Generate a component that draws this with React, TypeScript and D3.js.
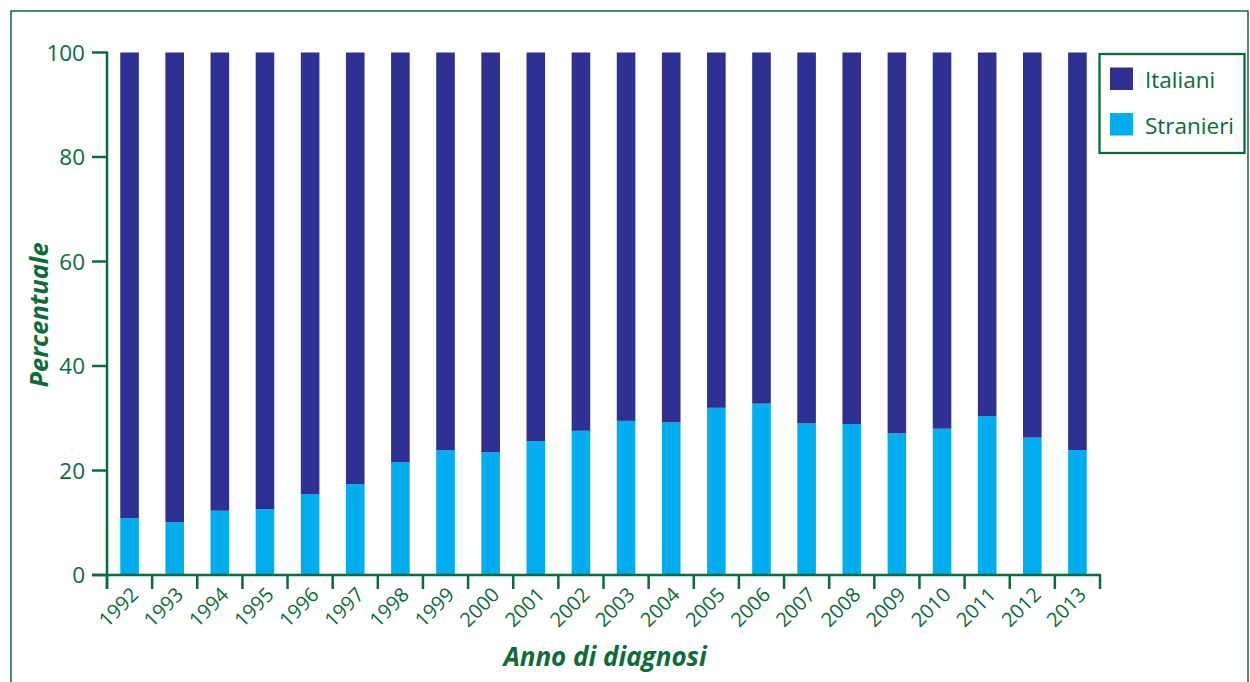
import React from "react";
import * as d3 from "d3";

const years = ["1992","1993","1994","1995","1996","1997","1998","1999","2000","2001","2002","2003","2004","2005","2006","2007","2008","2009","2010","2011","2012","2013"];
const stranieri = [10.9,10.1,12.3,12.6,15.5,17.4,21.6,23.9,23.5,25.6,27.6,29.5,29.2,32.0,32.8,29.0,28.9,27.1,28.0,30.4,26.3,23.9];
const yTicks = [0, 20, 40, 60, 80, 100];
const seriesNames = ["Italiani", "Stranieri"];
const seriesColors = ["#2E3092", "#00AEEF"];

const GREEN = "#0C6B3A";
const FONT = "'Open Sans', sans-serif";

export default function App() {
  const x0 = 107, x1 = 1100, yTop = 52.5, yBot = 575;
  const x = d3.scaleBand<string>().domain(years).range([x0, x1]).paddingInner(0.588).paddingOuter(0.294);
  const y = d3.scaleLinear().domain([0, 100]).range([yBot, yTop]);
  const step = x.step();
  const bw = x.bandwidth();

  return (
    <svg width={1250} height={682} style={{ position: "absolute", left: 0, top: 0, background: "#fff" }}>
      <rect x={11} y={11} width={1237} height={700} fill="none" stroke={GREEN} strokeWidth={1.5} />
      {/* bars */}
      {years.map((yr, i) => (
        <g key={yr}>
          <rect x={x(yr)} y={y(stranieri[i])} width={bw} height={y(0) - y(stranieri[i])} fill={seriesColors[1]} />
          <rect x={x(yr)} y={y(100)} width={bw} height={y(stranieri[i]) - y(100)} fill={seriesColors[0]} />
        </g>
      ))}
      {/* y axis */}
      <line x1={x0} x2={x0} y1={yTop - 1} y2={589} stroke={GREEN} strokeWidth={2.5} />
      {yTicks.map((t) => (
        <g key={t}>
          <line x1={92} x2={x0} y1={y(t)} y2={y(t)} stroke={GREEN} strokeWidth={2.5} />
          <text x={85} y={y(t)} dy="0.36em" textAnchor="end" fontFamily={FONT} fontSize={22.5} fill={GREEN}>{t}</text>
        </g>
      ))}
      {/* x axis */}
      <line x1={92} x2={x1 + 1} y1={yBot} y2={yBot} stroke={GREEN} strokeWidth={2.5} />
      {d3.range(years.length + 1).map((k) => (
        <line key={k} x1={x0 + k * step} x2={x0 + k * step} y1={yBot} y2={589} stroke={GREEN} strokeWidth={2.5} />
      ))}
      {years.map((yr) => {
        const cx = (x(yr) as number) + bw / 2;
        return (
          <text key={yr} transform={`translate(${cx + 10},${596}) rotate(-45)`} textAnchor="end" fontFamily={FONT} fontSize={20} fill={GREEN}>{yr}</text>
        );
      })}
      {/* axis titles */}
      <text transform={`translate(48,315) rotate(-90)`} textAnchor="middle" fontFamily={FONT} fontSize={25.5} fontWeight="bold" fontStyle="italic" fill={GREEN}>Percentuale</text>
      <text x={605} y={666} textAnchor="middle" fontFamily={FONT} fontSize={26} fontWeight="bold" fontStyle="italic" fill={GREEN}>Anno di diagnosi</text>
      {/* legend */}
      <rect x={1099.5} y={54} width={145} height={99} fill="#fff" stroke={GREEN} strokeWidth={2.3} />
      {seriesNames.map((n, i) => (
        <g key={n}>
          <rect x={1110} y={67.5 + i * 45.5} width={23} height={22.5} fill={seriesColors[i]} />
          <text x={1145} y={88 + i * 46} fontFamily={FONT} fontSize={22.5} fill={GREEN}>{n}</text>
        </g>
      ))}
    </svg>
  );
}
